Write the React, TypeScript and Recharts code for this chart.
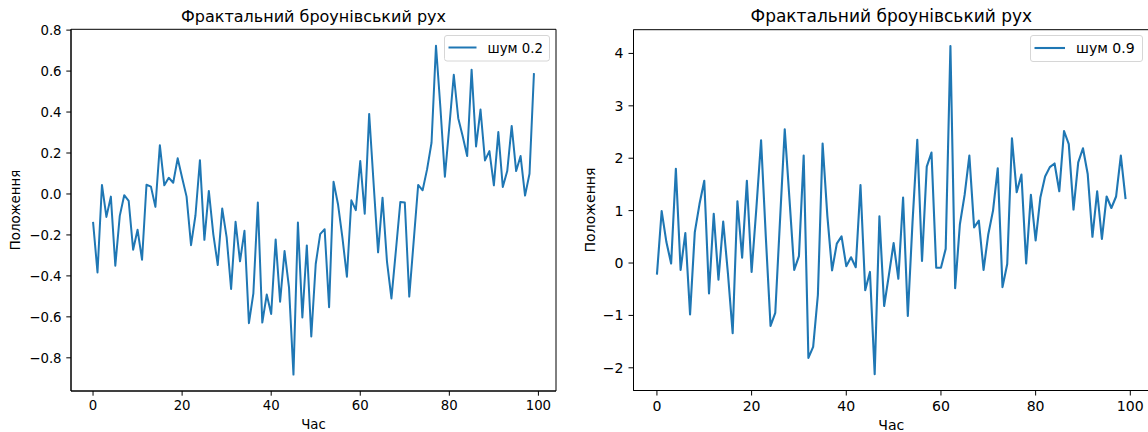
import React from 'react';
import { LineChart, Line, XAxis, YAxis, ReferenceArea } from 'recharts';

const FONT = '"DejaVu Sans", sans-serif';

const hours = Array.from({ length: 100 }, (_, i) => i);

const noise02 = [
  -0.136, -0.383, 0.044, -0.112, -0.013, -0.35, -0.107, -0.006, -0.034, -0.272,
  -0.175, -0.321, 0.045, 0.036, -0.063, 0.238, 0.042, 0.079, 0.055, 0.174,
  0.079, -0.013, -0.25, -0.104, 0.165, -0.224, 0.015, -0.196, -0.347, -0.071,
  -0.212, -0.464, -0.136, -0.329, -0.18, -0.631, -0.485, -0.042, -0.628, -0.491,
  -0.586, -0.222, -0.526, -0.279, -0.456, -0.882, -0.139, -0.603, -0.251, -0.696,
  -0.342, -0.196, -0.172, -0.553, 0.06, -0.05, -0.214, -0.404, -0.031, -0.079,
  0.161, -0.096, 0.391, 0.05, -0.285, -0.018, -0.33, -0.51, -0.276, -0.039,
  -0.042, -0.501, -0.229, 0.044, 0.018, 0.12, 0.25, 0.724, 0.42, 0.084,
  0.33, 0.582, 0.37, 0.282, 0.185, 0.607, 0.232, 0.412, 0.164, 0.209,
  0.042, 0.302, 0.034, 0.112, 0.332, 0.112, 0.185, -0.008, 0.099, 0.59,
];

const noise09 = [
  -0.22, 0.99, 0.4, -0.01, 1.8, -0.13, 0.57, -0.98, 0.59, 1.13,
  1.57, -0.58, 0.94, -0.32, 0.79, -0.2, -1.34, 1.18, 0.1, 1.57,
  -0.17, 1.04, 2.34, 0.5, -1.2, -0.95, 0.81, 2.55, 1.22, -0.13,
  0.13, 2.05, -1.81, -1.6, -0.61, 2.28, 0.9, -0.14, 0.37, 0.51,
  -0.06, 0.11, -0.08, 1.49, -0.52, -0.17, -2.12, 0.89, -0.82, -0.23,
  0.38, -0.3, 1.25, -1.01, 0.79, 2.35, 0.04, 1.84, 2.11, -0.09,
  -0.09, 0.27, 4.14, -0.48, 0.74, 1.3, 2.05, 0.68, 0.81, -0.13,
  0.55, 1.0, 1.81, -0.46, -0.02, 2.38, 1.35, 1.69, -0.01, 1.3,
  0.43, 1.25, 1.65, 1.83, 1.9, 1.37, 2.52, 2.27, 1.02, 1.92,
  2.19, 1.7, 0.5, 1.37, 0.46, 1.27, 1.05, 1.27, 2.05, 1.22,
];

const xTicks = [0, 20, 40, 60, 80, 100];
const yTicksLeft = [-0.8, -0.6, -0.4, -0.2, 0, 0.2, 0.4, 0.6, 0.8];
const yTicksRight = [-2, -1, 0, 1, 2, 3, 4];

const titleText = 'Фрактальний броунівський рух';
const xLabelText = 'Час';
const yLabelText = 'Положення';
const legendLeftText = 'шум 0.2';
const legendRightText = 'шум 0.9';

const dataLeft = hours.map((h, i) => ({ t: h, v: noise02[i] }));
const dataRight = hours.map((h, i) => ({ t: h, v: noise09[i] }));

const xDomain: [number, number] = [-4.95, 103.95];
const yDomainLeft: [number, number] = [-0.962, 0.804];
const yDomainRight: [number, number] = [-2.433, 4.453];

const fmtLeft = (v: number) => (v < -1e-9 ? '\u2212' : '') + Math.abs(v).toFixed(1);
const fmtRight = (v: number) => (v < 0 ? '\u2212' : '') + String(Math.abs(v));

type PanelProps = {
  data: { t: number; v: number }[];
  left: number;
  width: number;
  margin: { top: number; right: number; bottom: number; left: number };
  yAxisWidth: number;
  xAxisHeight: number;
  yDomain: [number, number];
  yTicks: number[];
  yFmt: (v: number) => string;
  fs: number;
  sw: number;
  tl: number;
};

function Panel(p: PanelProps) {
  const tickStyle = { fontSize: p.fs, fill: '#000', fontFamily: FONT };
  return (
    <div style={{ position: 'absolute', left: p.left, top: 0 }}>
      <LineChart width={p.width} height={432} data={p.data} margin={p.margin}>
        <XAxis
          dataKey="t"
          type="number"
          domain={xDomain}
          ticks={xTicks}
          allowDataOverflow
          interval={0}
          height={p.xAxisHeight}
          tickSize={p.tl}
          tickMargin={p.tl}
          tick={tickStyle}
          axisLine={{ stroke: '#000', strokeWidth: 1 }}
          tickLine={{ stroke: '#000', strokeWidth: 1 }}
        />
        <YAxis
          type="number"
          domain={p.yDomain}
          ticks={p.yTicks}
          allowDataOverflow
          interval={0}
          width={p.yAxisWidth}
          tickSize={p.tl}
          tickMargin={p.tl}
          tick={tickStyle}
          tickFormatter={p.yFmt}
          axisLine={{ stroke: '#000', strokeWidth: 1 }}
          tickLine={{ stroke: '#000', strokeWidth: 1 }}
        />
        <ReferenceArea
          x1={xDomain[0]}
          x2={xDomain[1]}
          y1={p.yDomain[0]}
          y2={p.yDomain[1]}
          fill="none"
          fillOpacity={0}
          stroke="#000"
          strokeWidth={1}
          ifOverflow="visible"
        />
        <Line
          dataKey="v"
          type="linear"
          stroke="#1f77b4"
          strokeWidth={p.sw}
          strokeLinejoin="round"
          dot={false}
          activeDot={false}
          isAnimationActive={false}
        />
      </LineChart>
    </div>
  );
}

export default function App() {
  return (
    <div
      style={{
        position: 'absolute',
        left: 0,
        top: 0,
        width: 1148,
        height: 432,
        overflow: 'hidden',
        background: '#fff',
        fontFamily: FONT,
      }}
    >
      <Panel
        data={dataLeft}
        left={0}
        width={574}
        margin={{ top: 29.3, right: 18, bottom: 0, left: 0 }}
        yAxisWidth={71}
        xAxisHeight={41}
        yDomain={yDomainLeft}
        yTicks={yTicksLeft}
        yFmt={fmtLeft}
        fs={13.3}
        sw={2}
        tl={4.7}
      />
      <Panel
        data={dataRight}
        left={574}
        width={580}
        margin={{ top: 29.7, right: 5, bottom: 0, left: 0 }}
        yAxisWidth={59.5}
        xAxisHeight={41.5}
        yDomain={yDomainRight}
        yTicks={yTicksRight}
        yFmt={fmtRight}
        fs={14.1}
        sw={2.1}
        tl={5}
      />
      <svg
        width={1148}
        height={432}
        style={{ position: 'absolute', left: 0, top: 0, pointerEvents: 'none' }}
        fontFamily={FONT}
      >
        <text x={313.5} y={21.5} fontSize={16} textAnchor="middle" fill="#000">{titleText}</text>
        <text x={891.3} y={21.5} fontSize={17} textAnchor="middle" fill="#000">{titleText}</text>
        <text x={313.5} y={429} fontSize={13.3} textAnchor="middle" fill="#000">{xLabelText}</text>
        <text x={891.3} y={429.5} fontSize={14.1} textAnchor="middle" fill="#000">{xLabelText}</text>
        <text x={20} y={210} fontSize={13.3} textAnchor="middle" fill="#000" transform="rotate(-90 20 210)">{yLabelText}</text>
        <text x={595} y={210} fontSize={14.1} textAnchor="middle" fill="#000" transform="rotate(-90 595 210)">{yLabelText}</text>

        <rect x={444.5} y={35.5} width={105} height={25.5} rx={2.5} fill="#fff" fillOpacity={0.8} stroke="#d6d6d6" />
        <line x1={448.5} x2={476.5} y1={47.5} y2={47.5} stroke="#1f77b4" strokeWidth={2} />
        <text x={487.5} y={52.5} fontSize={13.3} fill="#000">{legendLeftText}</text>

        <rect x={1030.5} y={35.5} width={112} height={26} rx={2.5} fill="#fff" fillOpacity={0.8} stroke="#d6d6d6" />
        <line x1={1034.5} x2={1065} y1={48} y2={48} stroke="#1f77b4" strokeWidth={2.1} />
        <text x={1076} y={53} fontSize={14.1} fill="#000">{legendRightText}</text>
      </svg>
    </div>
  );
}
